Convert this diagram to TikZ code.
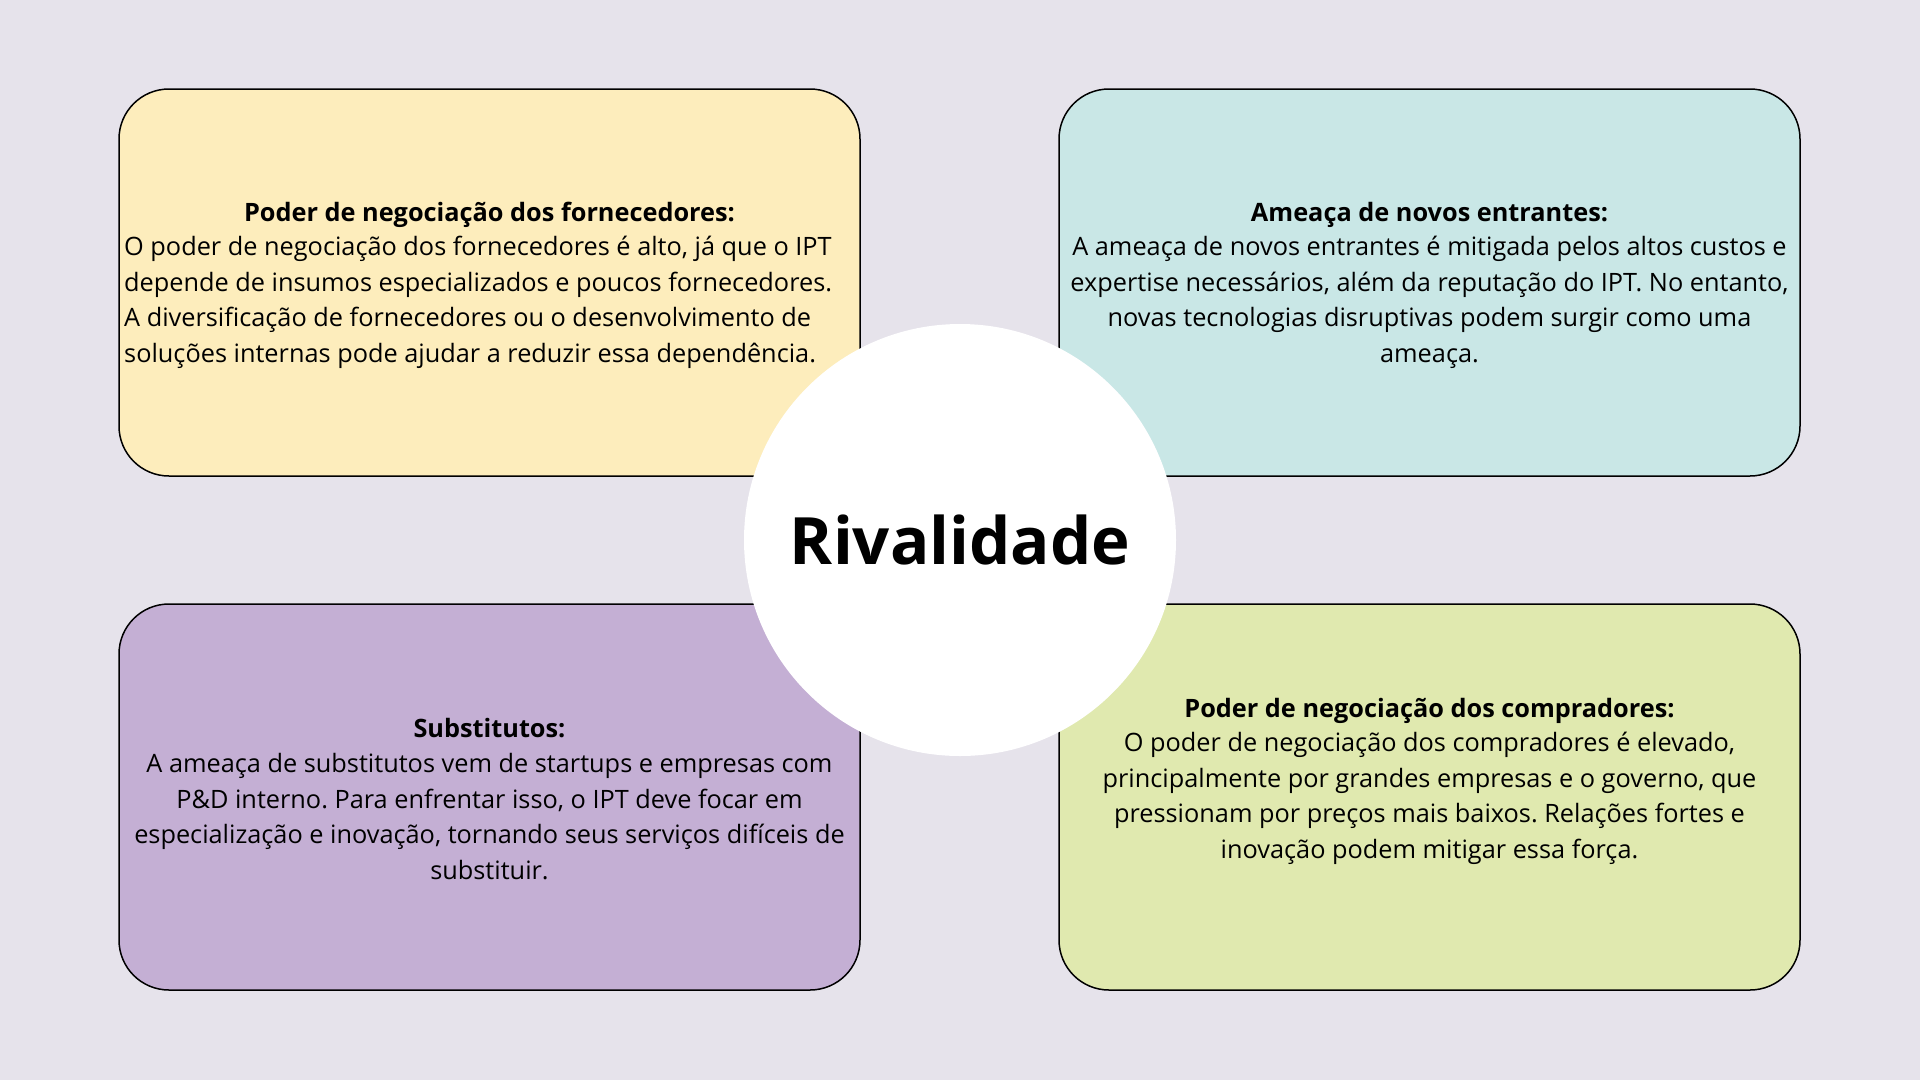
\documentclass[tikz,border=0pt]{standalone}
\usepackage{fontspec}
\setmainfont{Open Sans}
\frenchspacing
\definecolor{bg}{HTML}{E6E3EB}
\definecolor{cyellow}{HTML}{FDEDBC}
\definecolor{cteal}{HTML}{C9E7E6}
\definecolor{cpurple}{HTML}{C4AFD4}
\definecolor{cgreen}{HTML}{E0E9AF}
\tikzset{
  card/.style={draw=black, line width=1.5pt, rounded corners=50pt},
  head/.style={font=\fontsize{25.3}{35.5}\selectfont\bfseries, inner sep=0pt},
  body/.style={font=\fontsize{25.3}{35.5}\selectfont, inner sep=0pt, align=center},
}
\begin{document}
\begin{tikzpicture}[x=1pt,y=-1pt]
\fill[bg] (0,0) rectangle (1920,1080);
\useasboundingbox (0,0) rectangle (1920,1080);
\draw[card, fill=cyellow] (119,89) rectangle (860,476);
\draw[card, fill=cteal] (1059,89) rectangle (1800,476);
\draw[card, fill=cpurple] (119,604) rectangle (860,990);
\draw[card, fill=cgreen] (1059,604) rectangle (1800,990);
\node[fill=white, circle, minimum size=432pt, inner sep=0pt] (c) at (960,540) {};
\node[font=\fontsize{65.3}{78}\selectfont\bfseries, inner sep=0pt] (riv) at (960,540) {Rivalidade};

\node[head] (h1) at (489.5,214.5) {Poder de negociação dos fornecedores:};
\node[body, align=left, anchor=west] (b1) at (124,302.5) {O poder de negociação dos fornecedores é alto, já que o IPT\\depende de insumos especializados e poucos fornecedores.\\A diversificação de fornecedores ou o desenvolvimento de\\soluções internas pode ajudar a reduzir essa dependência.};

\node[head] (h2) at (1429.5,214.5) {Ameaça de novos entrantes:};
\node[body] (b2) at (1429.5,302.5) {A ameaça de novos entrantes é mitigada pelos altos custos e\\expertise necessários, além da reputação do IPT. No entanto,\\novas tecnologias disruptivas podem surgir como uma\\ameaça.};

\node[head] (h3) at (489.5,728.5) {Substitutos:};
\node[body] (b3) at (489.5,816.5) {A ameaça de substitutos vem de startups e empresas com\\P\&D interno. Para enfrentar isso, o IPT deve focar em\\especialização e inovação, tornando seus serviços difíceis de\\substituir.};

\node[head] (h4) at (1429.5,710.5) {Poder de negociação dos compradores:};
\node[body] (b4) at (1429.5,798.5) {O poder de negociação dos compradores é elevado,\\principalmente por grandes empresas e o governo, que\\pressionam por preços mais baixos. Relações fortes e\\inovação podem mitigar essa força.};
\end{tikzpicture}
\end{document}
